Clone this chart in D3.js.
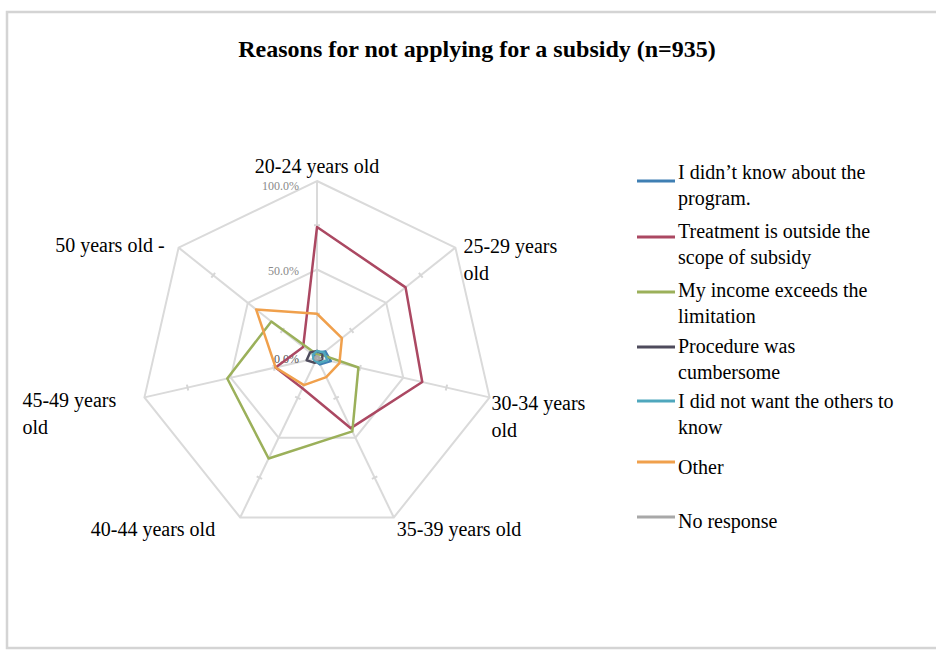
<!DOCTYPE html>
<html>
<head>
<meta charset="utf-8">
<script src="https://cdn.jsdelivr.net/npm/d3@7"></script>
<style>
  body { margin: 0; background: #fff; }
  svg text { font-family: "Liberation Serif", "Times New Roman", serif; }
</style>
</head>
<body>
<script>
const WIDTH = 936
const HEIGHT = 651

// age groups (spokes, clockwise from the top)
const categories = ['20-24 years old', '25-29 years old', '30-34 years old', '35-39 years old',
  '40-44 years old', '45-49 years old', '50 years old -']
// how each spoke label is broken into lines
const categoryLines = [['20-24 years old'], ['25-29 years', 'old'], ['30-34 years', 'old'],
  ['35-39 years old'], ['40-44 years old'], ['45-49 years', 'old'], ['50 years old -']]

const seriesNames = ['I didn\u2019t know about the program.', 'Treatment is outside the scope of subsidy',
  'My income exceeds the limitation', 'Procedure was cumbersome',
  'I did not want the others to know', 'Other', 'No response']
const legendLines = [['I didn\u2019t know about the', 'program.'], ['Treatment is outside the', 'scope of subsidy'],
  ['My income exceeds the', 'limitation'], ['Procedure was', 'cumbersome'],
  ['I did not want the others to', 'know'], ['Other'], ['No response']]

// shares per age group (0..1)
const didntKnow   = [0.03, 0.06, 0.08, 0.04, 0.02, 0.02, 0.02]
const outOfScope  = [0.74, 0.64, 0.61, 0.44, 0.19, 0.24, 0.10]
const incomeLimit = [0.02, 0.03, 0.24, 0.46, 0.63, 0.52, 0.33]
const cumbersome  = [0.04, 0.04, 0.03, 0.02, 0.03, 0.06, 0.05]
const notKnown    = [0.04, 0.05, 0.06, 0.03, 0.02, 0.02, 0.03]
const other       = [0.25, 0.18, 0.13, 0.12, 0.17, 0.24, 0.44]
const noResponse  = [0.01, 0.01, 0.02, 0.01, 0.01, 0.01, 0.01]
const SERIES = [didntKnow, outOfScope, incomeLimit, cumbersome, notKnown, other, noResponse]

const ticks = [0, 0.5, 1]

const COLORS = ['#3f7fb3', '#ab4862', '#9bb05a', '#4e4b5c', '#4fa7bd', '#f0a04c', '#a8a8a8']

// layout
const CX = 317
const CY = 358
const R = 177
// label placement per spoke: [dx, dy, anchor] from the outer vertex
const labelPos = [[0, -8, 'middle'], [8, 5, 'start'], [2, 13, 'start'], [3, 19, 'start'],
  [-25, 19, 'end'], [-122, 10, 'start'], [-14, 4, 'end']]
const legendY = [181, 237, 292, 347, 401, 462, 517]
const legendTextY = [179, 238, 297, 353, 408, 474, 528]

const svg = d3.select('body').append('svg')
  .attr('width', WIDTH)
  .attr('height', HEIGHT)

// chart frame
svg.append('rect')
  .attr('x', 7).attr('y', 12)
  .attr('width', 940).attr('height', 636)
  .attr('fill', '#fff')
  .attr('stroke', '#d4d4d4')
  .attr('stroke-width', 2.5)

svg.append('text')
  .attr('x', 477).attr('y', 57)
  .attr('text-anchor', 'middle')
  .attr('font-size', 24)
  .attr('font-weight', 'bold')
  .text('Reasons for not applying for a subsidy (n=935)')

const rScale = d3.scaleLinear().domain([0, 1]).range([0, R])
const angle = d3.scaleLinear().domain([0, categories.length]).range([0, 2 * Math.PI])

const g = svg.append('g').attr('transform', `translate(${CX},${CY})`)

const pt = (i, v) => {
  const a = angle(i)
  return [rScale(v) * Math.sin(a), -rScale(v) * Math.cos(a)]
}

// grid rings
const ring = d3.lineRadial()
  .angle((d, i) => angle(i))
  .radius(d => rScale(d))
  .curve(d3.curveLinearClosed)

g.selectAll('.ring')
  .data(ticks.filter(t => t > 0))
  .enter()
  .append('path')
  .attr('d', t => ring(categories.map(() => t)))
  .attr('fill', 'none')
  .attr('stroke', '#dadada')
  .attr('stroke-width', 2)

// spokes
g.selectAll('.spoke')
  .data(categories)
  .enter()
  .append('line')
  .attr('x1', 0).attr('y1', 0)
  .attr('x2', (d, i) => pt(i, 1)[0])
  .attr('y2', (d, i) => pt(i, 1)[1])
  .attr('stroke', '#dadada')
  .attr('stroke-width', 2)

// little tick marks on the spokes
categories.forEach((c, i) => {
  [0.25, 0.75].forEach(t => {
    const [x, y] = pt(i, t)
    const a = angle(i)
    const nx = Math.cos(a) * 3, ny = Math.sin(a) * 3
    g.append('line')
      .attr('x1', x - nx).attr('y1', y - ny)
      .attr('x2', x + nx).attr('y2', y + ny)
      .attr('stroke', '#d6d6d6')
      .attr('stroke-width', 2)
  })
})

// value labels
g.selectAll('.tick')
  .data(ticks)
  .enter()
  .append('text')
  .attr('x', -18)
  .attr('y', t => t === 1 ? -rScale(t) + 9 : -rScale(t) + 5)
  .attr('text-anchor', 'end')
  .attr('font-family', '"Liberation Sans", Arial, sans-serif')
  .attr('font-size', 12)
  .attr('fill', t => t === 0 ? '#555' : '#8a8a8a')
  .text(t => d3.format('.1%')(t))

// series polygons
g.selectAll('.series')
  .data(SERIES)
  .enter()
  .append('path')
  .attr('d', d => ring(d))
  .attr('fill', 'none')
  .attr('stroke', (d, i) => COLORS[i])
  .attr('stroke-width', 2.5)
  .attr('stroke-linejoin', 'round')

// spoke labels
categoryLines.forEach((lines, i) => {
  const [x, y] = pt(i, 1)
  const [dx, dy, anchor] = labelPos[i]
  const t = svg.append('text')
    .attr('x', CX + x + dx)
    .attr('y', CY + y + dy)
    .attr('text-anchor', anchor)
    .attr('font-size', 20)
  lines.forEach((l, k) => {
    t.append('tspan')
      .attr('x', CX + x + dx)
      .attr('dy', k === 0 ? 0 : 27)
      .text(l)
  })
})

// legend
const legend = svg.append('g')
seriesNames.forEach((name, i) => {
  legend.append('line')
    .attr('x1', 637).attr('x2', 675)
    .attr('y1', legendY[i]).attr('y2', legendY[i])
    .attr('stroke', COLORS[i])
    .attr('stroke-width', 3)
  const t = legend.append('text')
    .attr('x', 678)
    .attr('y', legendTextY[i])
    .attr('font-size', 20)
  legendLines[i].forEach((l, k) => {
    t.append('tspan')
      .attr('x', 678)
      .attr('dy', k === 0 ? 0 : 26)
      .text(l)
  })
})
</script>
</body>
</html>
